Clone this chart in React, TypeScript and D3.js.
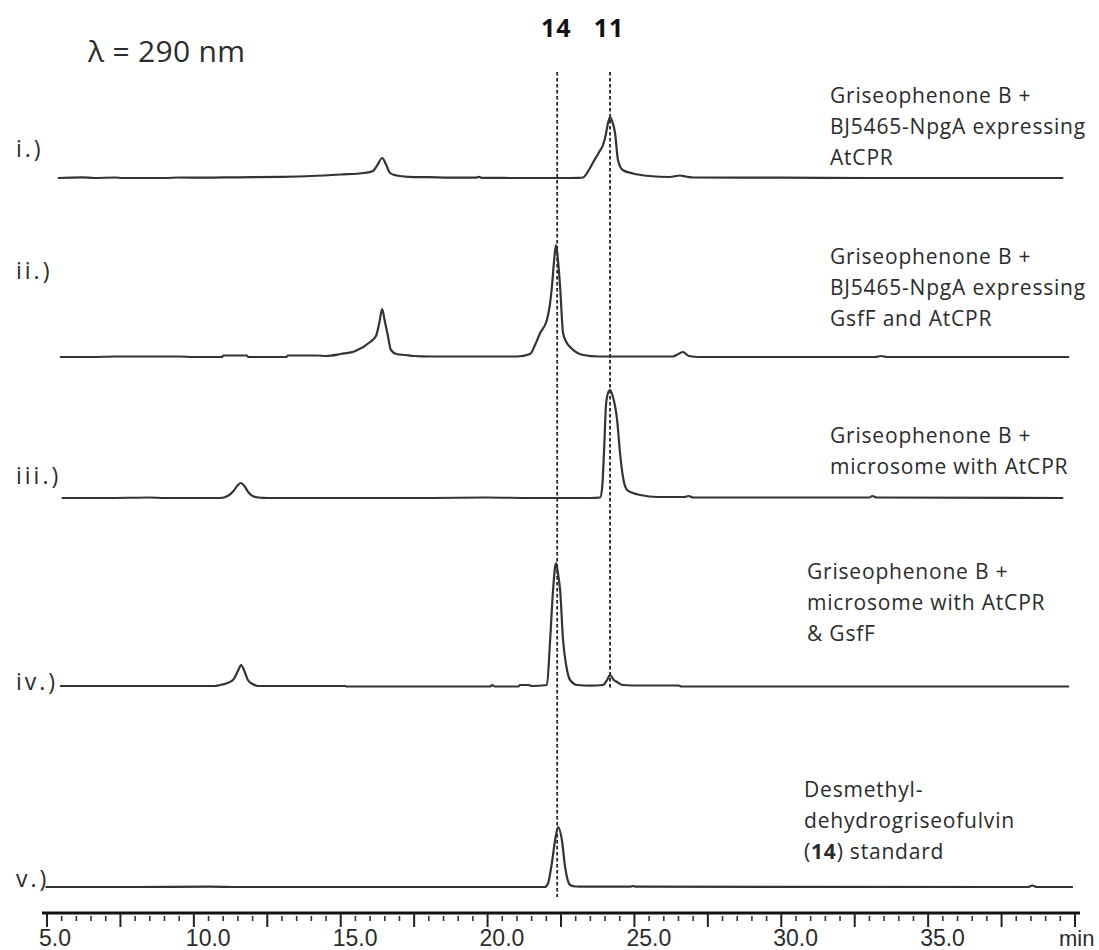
import React from "react";
import * as d3 from "d3";

// ---------- DATA ----------
// retention time axis (min)
const xDomain: [number, number] = [5, 40];
const tickLabels = ["5.0", "10.0", "15.0", "20.0", "25.0", "30.0", "35.0"];
const tickLabelValues = [5, 10, 15, 20, 25, 30, 35];
const axisUnit = "min";

// chromatogram traces: [retention time (min), absorbance (arbitrary units)]
const traceI: [number, number][] = [
  [5.37, 0], [6.2, 0.6], [6.6, 0], [7.3, 0.5], [7.6, 0], [9.0, 0], [9.5, 0.5], [10.2, 0.3],
  [11.0, 0.6], [12.0, 0.8], [13.0, 1.2], [14.0, 2], [15.0, 3.5], [15.8, 5], [16.1, 7],
  [16.25, 13], [16.41, 20], [16.55, 13], [16.68, 5], [16.9, 2.5], [17.3, 1.2], [18.0, 0.8],
  [19.0, 0.3], [19.6, 0.3], [19.7, 1.2], [19.8, 0.2], [21.0, 0], [22.4, 0], [23.1, 0.2],
  [23.25, 0.5], [23.45, 8], [23.6, 16], [23.8, 26], [23.93, 33], [24.03, 44], [24.1, 55],
  [24.17, 61], [24.24, 57], [24.34, 45], [24.44, 18], [24.6, 8], [24.95, 4.5], [25.5, 2],
  [26.2, 1], [26.55, 2.5], [26.75, 1.5], [27.0, 0.5], [30.0, 0.3], [33.0, 0], [39.6, 0],
];
const traceII: [number, number][] = [
  [5.44, 0], [6.5, 0], [7.3, 0.5], [9.5, 0.5], [10.0, 0], [10.96, 0], [11.0, 1.5], [11.8, 1.5],
  [11.85, 0], [13.15, 0], [13.2, 1.5], [14.2, 1.5], [14.5, 1], [15.0, 3], [15.5, 6], [16.0, 15],
  [16.2, 21], [16.32, 35], [16.41, 48], [16.5, 36], [16.6, 22], [16.71, 7], [16.9, 3],
  [17.2, 2], [17.5, 1], [18.0, 0.5], [21.0, 0.5], [21.45, 3], [21.6, 11], [21.79, 24],
  [22.02, 37], [22.12, 52], [22.19, 70], [22.27, 98], [22.33, 112], [22.4, 96], [22.47, 70],
  [22.57, 24], [22.7, 14], [22.81, 10], [23.25, 2], [23.8, 0.5], [26.3, 0.5], [26.5, 3],
  [26.65, 5], [26.85, 1], [27.2, 0], [33.2, 0], [33.4, 1], [33.6, 0], [39.8, 0],
];
const traceIII: [number, number][] = [
  [5.5, 0], [7.0, 0], [8.5, 0.5], [9.0, 0], [10.9, 0], [11.15, 2], [11.35, 7], [11.5, 13],
  [11.6, 15], [11.72, 12], [11.85, 6], [12.0, 2], [12.2, 0.5], [12.5, 0], [18.0, 0],
  [20.0, 0.5], [21.5, 0], [23.5, 0], [23.83, 0.5], [23.9, 10], [23.97, 50], [24.03, 92],
  [24.1, 105], [24.17, 108], [24.25, 103], [24.41, 78], [24.51, 45], [24.61, 21], [24.75, 8],
  [24.95, 5], [25.2, 3], [25.8, 1], [26.7, 1], [26.85, 2], [27.0, 0.5], [29.2, 0.5],
  [33.0, 0.5], [33.1, 2], [33.25, 0.5], [39.6, 0],
];
const traceIV: [number, number][] = [
  [5.44, 0], [9.0, 0], [10.7, 0], [10.89, 1], [11.1, 2.5], [11.33, 6], [11.5, 15], [11.61, 21],
  [11.72, 15], [11.84, 6], [12.0, 2], [12.18, 0], [15.15, 0], [15.2, -0.5], [20.1, -0.5],
  [20.15, 1], [20.25, -0.5], [21.05, -0.5], [21.1, 1], [21.4, 1], [21.5, 0], [22.02, 1],
  [22.13, 46], [22.23, 96], [22.33, 123], [22.4, 112], [22.47, 96], [22.57, 46], [22.68, 20],
  [22.81, 6], [23.05, 1], [23.5, 0.3], [23.93, 1], [24.07, 6], [24.17, 11], [24.3, 6],
  [24.41, 4], [24.6, 1], [25.2, 0.5], [26.5, 0.5], [26.6, -0.5], [39.8, -0.5],
];
const traceV: [number, number][] = [
  [4.95, 0], [8.0, 0], [10.5, 0.3], [11.5, 0], [21.95, 0], [22.05, 3], [22.19, 24],
  [22.3, 47], [22.4, 60], [22.53, 47], [22.64, 20], [22.81, 2], [23.0, 0.5], [23.3, 0.3],
  [24.85, 0.3], [24.95, 1], [25.05, 0.3], [38.4, 0], [38.55, 1.5], [38.7, 0], [39.93, 0],
];

const traces = [traceI, traceII, traceIII, traceIV, traceV];
const traceNames = ["i.)", "ii.)", "iii.)", "iv.)", "v.)"];
const traceDescriptions: string[][] = [
  ["Griseophenone B +", "BJ5465-NpgA expressing", "AtCPR"],
  ["Griseophenone B +", "BJ5465-NpgA expressing", "GsfF and AtCPR"],
  ["Griseophenone B +", "microsome with AtCPR"],
  ["Griseophenone B +", "microsome with AtCPR", "& GsfF"],
  ["Desmethyl-", "dehydrogriseofulvin", "(14) standard"],
];

// reference compound retention times
const markerLabels = ["14", "11"];
const markerTimes = [22.37, 24.17];
const markerLastTrace = [4, 3]; // index of last trace the guide line reaches

const wavelengthLabel = "λ = 290 nm";

// ---------- LAYOUT ----------
const W = 1099;
const H = 950;
const baselines = [178, 357, 498, 686, 887];
const nameY = [157, 279, 484, 690, 887];
const descX = [830, 830, 830, 807, 804];
const descY = [103, 264, 443, 579, 797];
const lineGap = 31;
const axisY = 913;
const INK = "#2b2b2b";
const FONT = "'Open Sans', 'Noto Sans', sans-serif";
const AXIS_FONT = "'Liberation Sans', Arial, sans-serif";

export default function App() {
  const x = d3.scaleLinear().domain(xDomain).range([47, 1075]);
  const amp = d3.scaleLinear().domain([0, 100]).range([0, 100]);

  const majorTicks = d3.range(xDomain[0], xDomain[1] + 0.001, 2.5);
  const minorTicks = d3
    .range(xDomain[0], xDomain[1] + 0.001, 0.5)
    .filter((t) => Math.abs(t / 2.5 - Math.round(t / 2.5)) > 1e-6);

  return (
    <svg
      width={W}
      height={H}
      viewBox={`0 0 ${W} ${H}`}
      style={{ position: "absolute", left: 0, top: 0, background: "#fff" }}
    >
      <rect x={0} y={0} width={W} height={H} fill="#fff" />

      {/* wavelength */}
      <text x={88} y={62} fontFamily={FONT} fontSize={30} fill={INK} letterSpacing={0.3}>
        {wavelengthLabel}
      </text>

      {/* marker guide lines */}
      {markerTimes.map((t, i) => (
        <g key={"m" + i}>
          <line
            x1={x(t)}
            x2={x(t)}
            y1={72}
            y2={baselines[markerLastTrace[i]] + (markerLastTrace[i] === 4 ? 10 : 3)}
            stroke="#222"
            strokeWidth={1.8}
            strokeDasharray="3.5,2.5"
          />
          <text
            x={x(t) - 1}
            y={37}
            textAnchor="middle"
            fontFamily={FONT}
            fontWeight={700}
            fontSize={25}
            fill="#111"
            letterSpacing={1}
          >
            {markerLabels[i]}
          </text>
        </g>
      ))}

      {/* traces */}
      {traces.map((tr, i) => {
        const line = d3
          .line<[number, number]>()
          .x((d) => x(d[0]))
          .y((d) => baselines[i] - amp(d[1]))
          .curve(d3.curveMonotoneX);
        return (
          <path
            key={"t" + i}
            d={line(tr) || ""}
            fill="none"
            stroke="#333"
            strokeWidth={2.2}
            strokeLinejoin="round"
          />
        );
      })}

      {/* trace names */}
      {traceNames.map((n, i) => (
        <text
          key={"n" + i}
          x={16}
          y={nameY[i]}
          fontFamily={FONT}
          fontSize={23}
          fill={INK}
          letterSpacing={3}
        >
          {n}
        </text>
      ))}

      {/* trace descriptions */}
      {traceDescriptions.map((lines, i) =>
        lines.map((l, j) => {
          if (i === 4 && j === 2) {
            return (
              <text
                key={`d${i}-${j}`}
                x={descX[i]}
                y={descY[i] + j * lineGap}
                fontFamily={FONT}
                fontSize={21}
                fill={INK}
                letterSpacing={0.8}
              >
                (<tspan fontWeight={700}>14</tspan>) standard
              </text>
            );
          }
          return (
            <text
              key={`d${i}-${j}`}
              x={descX[i]}
              y={descY[i] + j * lineGap}
              fontFamily={FONT}
              fontSize={21}
              fill={INK}
              letterSpacing={0.8}
            >
              {l}
            </text>
          );
        })
      )}

      {/* x axis */}
      <line x1={42} x2={1080} y1={axisY} y2={axisY} stroke="#111" strokeWidth={3.2} />
      {majorTicks.map((t) => (
        <line
          key={"M" + t}
          x1={x(t)}
          x2={x(t)}
          y1={axisY}
          y2={axisY + 14}
          stroke="#222"
          strokeWidth={2}
        />
      ))}
      {minorTicks.map((t) => (
        <line
          key={"m" + t}
          x1={x(t)}
          x2={x(t)}
          y1={axisY + 3}
          y2={axisY + 8}
          stroke="#333"
          strokeWidth={1.6}
        />
      ))}
      {tickLabelValues.map((t, i) => (
        <text
          key={"L" + t}
          x={x(t) - 8}
          y={946}
          fontFamily={AXIS_FONT}
          fontSize={23}
          fill={INK}
        >
          {tickLabels[i]}
        </text>
      ))}
      <text x={1059} y={946} fontFamily={AXIS_FONT} fontSize={22} fill={INK}>
        {axisUnit}
      </text>
    </svg>
  );
}
